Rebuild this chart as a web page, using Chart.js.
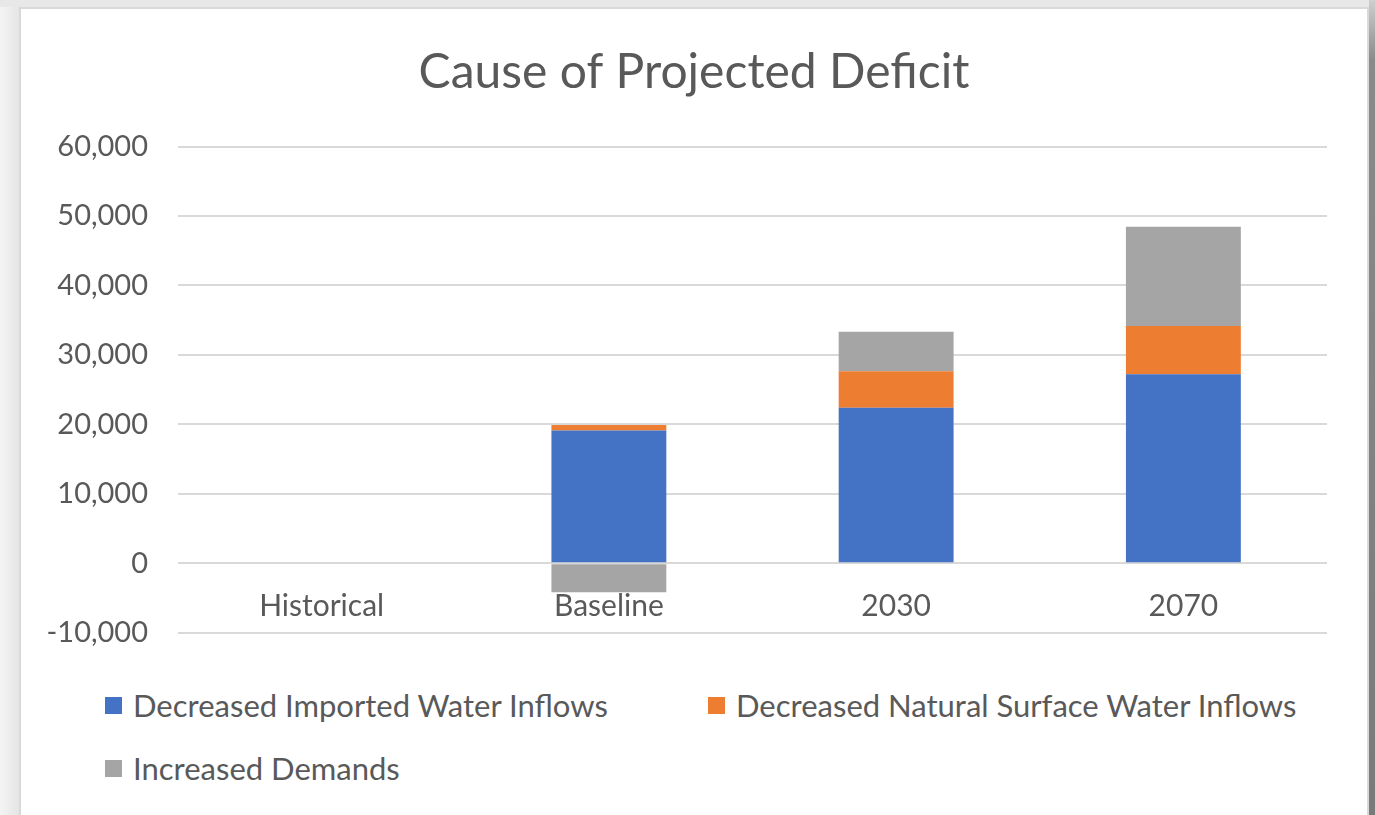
<!DOCTYPE html>
<html>
<head>
<meta charset="utf-8">
<script src="https://cdn.jsdelivr.net/npm/chart.js@4/dist/chart.umd.min.js"></script>
<style>
  html, body { margin: 0; padding: 0; }
  body {
    width: 1375px; height: 815px; overflow: hidden; position: relative;
    background: linear-gradient(to right, #f4f4f4 0px, #e6e6e6 18px);
  }
  #topStrip { position: absolute; left: 0; top: 0; width: 1375px; height: 7px; background: #e8e8e8; }
  #rightEdge {
    position: absolute; left: 1369px; top: 0; width: 6px; height: 815px;
    background: linear-gradient(to bottom, #cfcfcf 0px, #8a8a8a 60px, #7a7a7a 815px);
  }
  #frame {
    position: absolute; left: 19px; top: 7px; width: 1346px; height: 830px;
    background: #fff; border: 2px solid #d9d9d9;
  }
  #chart { position: absolute; left: 0; top: 0; }
  .legend-item {
    position: absolute; display: flex; align-items: center;
    font-family: Lato, sans-serif; font-size: 31px; color: #595959;
    white-space: nowrap; line-height: 1;
  }
  .legend-item span.box { display: inline-block; width: 17px; height: 17px; margin-right: 11px; }
</style>
</head>
<body>
<div id="topStrip"></div>
<div id="frame">
  <canvas id="chart" width="1346" height="671"></canvas>
  <div id="legend"></div>
</div>
<div id="rightEdge"></div>
<script>
// Chart data
const categories = ['Historical', 'Baseline', '2030', '2070'];
const importedWater = [null, 19100, 22400, 27200];
const naturalSurface = [null, 800, 5250, 6950];
const increasedDemands = [null, -4200, 5700, 14300];

const seriesNames = [
  'Decreased Imported Water Inflows',
  'Decreased Natural Surface Water Inflows',
  'Increased Demands'
];
const seriesColors = ['#4472C4', '#ED7D31', '#A5A5A5'];

const yMin = -10000;
const yMax = 60000;
const yStep = 10000;

const textColor = '#595959';
const font = 'Lato';

const canvas = document.getElementById('chart');

// the y labels hang past the narrow axis box; let them draw there
const unclipYLabels = {
  id: 'unclipYLabels',
  afterLayout(chart) {
    chart.scales.y.left = 0;
  }
};

const chart = new Chart(canvas, {
  type: 'bar',
  data: {
    labels: categories,
    datasets: [importedWater, naturalSurface, increasedDemands].map((values, i) => ({
      label: seriesNames[i],
      data: values,
      backgroundColor: seriesColors[i],
      borderWidth: 0,
      barPercentage: 0.4,
      categoryPercentage: 1
    }))
  },
  plugins: [unclipYLabels],
  options: {
    responsive: false,
    devicePixelRatio: 1,
    animation: false,
    layout: { padding: { left: 40, right: 40, top: 0, bottom: 36 } },
    plugins: {
      legend: { display: false },
      tooltip: { enabled: false },
      title: {
        display: true,
        text: 'Cause of Projected Deficit',
        color: textColor,
        font: { family: font, size: 48, weight: 'normal' },
        padding: { top: 35, bottom: 45 }
      }
    },
    scales: {
      x: {
        stacked: true,
        position: { y: 0 },
        grid: { display: false },
        border: { display: false },
        ticks: {
          color: textColor,
          font: { family: font, size: 30 },
          padding: 17,
          maxRotation: 0
        }
      },
      y: {
        stacked: true,
        min: yMin,
        max: yMax,
        afterFit(scale) { scale.width = 117; },
        grid: { color: '#d9d9d9', lineWidth: 2, drawTicks: false },
        border: { display: false },
        ticks: {
          stepSize: yStep,
          color: textColor,
          font: { family: font, size: 29 },
          padding: 30,
          callback: v => v.toLocaleString('en-US')
        }
      }
    }
  }
});

// legend laid out like the spreadsheet one: two columns, wraps to a second row
const legendPos = [
  { left: 84, top: 681 },
  { left: 687, top: 681 },
  { left: 84, top: 744 }
];
const legend = document.getElementById('legend');
chart.data.datasets.forEach((ds, i) => {
  const item = document.createElement('div');
  item.className = 'legend-item';
  item.style.left = legendPos[i].left + 'px';
  item.style.top = legendPos[i].top + 'px';
  item.style.height = '30px';
  const box = document.createElement('span');
  box.className = 'box';
  box.style.background = ds.backgroundColor;
  item.appendChild(box);
  item.appendChild(document.createTextNode(ds.label));
  legend.appendChild(item);
});
</script>
</body>
</html>
